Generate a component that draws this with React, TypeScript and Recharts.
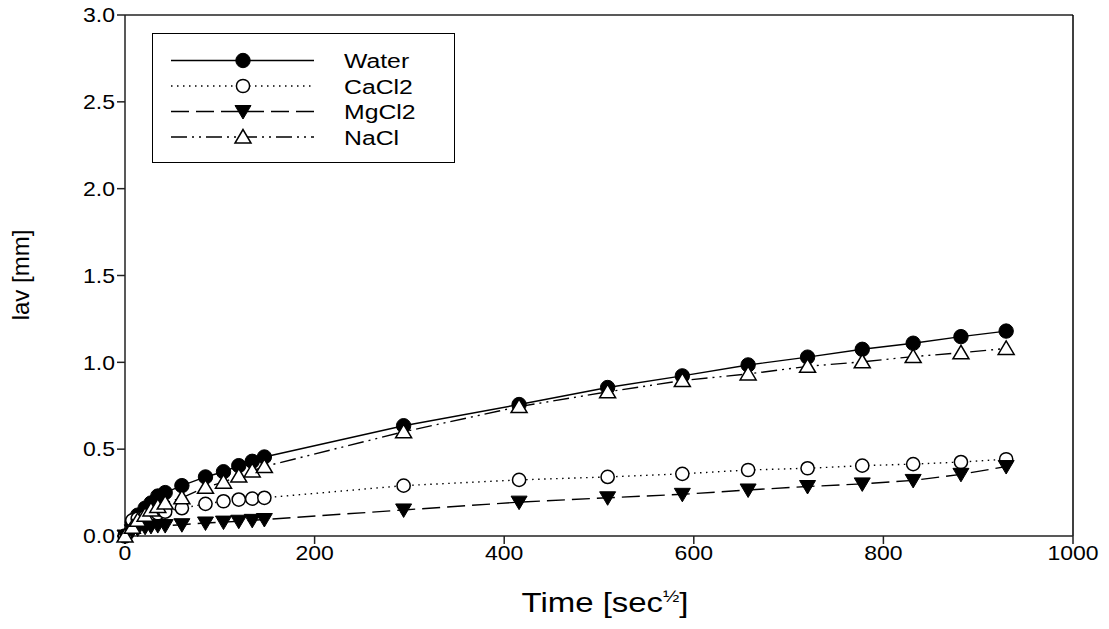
import React from 'react';
import { LineChart, Line, XAxis, YAxis, ReferenceLine, Label } from 'recharts';

const timeSqrtSec = [0, 7.7, 13.4, 21.2, 27.4, 34.6, 42.4, 60, 84.9, 103.9, 120, 134.2, 147, 293.9, 415.7, 509.1, 587.9, 657.3, 720, 777.7, 831.4, 881.8, 929.5];
const water = [0, 0.08, 0.12, 0.16, 0.19, 0.23, 0.25, 0.29, 0.34, 0.37, 0.405, 0.43, 0.455, 0.635, 0.757, 0.855, 0.922, 0.985, 1.03, 1.075, 1.11, 1.148, 1.18];
const cacl2 = [0, 0.09, 0.1, 0.11, 0.12, 0.13, 0.14, 0.16, 0.185, 0.2, 0.21, 0.215, 0.22, 0.29, 0.323, 0.34, 0.358, 0.38, 0.39, 0.405, 0.414, 0.426, 0.442];
const mgcl2 = [0, 0.03, 0.04, 0.05, 0.055, 0.06, 0.06, 0.065, 0.075, 0.08, 0.085, 0.09, 0.095, 0.15, 0.195, 0.22, 0.24, 0.265, 0.285, 0.3, 0.32, 0.355, 0.4];
const nacl = [0, 0.05, 0.09, 0.12, 0.15, 0.17, 0.19, 0.22, 0.28, 0.31, 0.345, 0.375, 0.4, 0.6, 0.745, 0.83, 0.895, 0.933, 0.977, 1.003, 1.033, 1.055, 1.08];

const xTicks = [0, 200, 400, 600, 800, 1000];
const yTicks = [0, 0.5, 1.0, 1.5, 2.0, 2.5, 3.0];
const seriesNames = ['Water', 'CaCl2', 'MgCl2', 'NaCl'];

const data = timeSqrtSec.map((t, i) => ({ t, water: water[i], cacl2: cacl2[i], mgcl2: mgcl2[i], nacl: nacl[i] }));

const FONT = '"Liberation Sans", Arial, Helvetica, sans-serif';
const SX = 1.15;

const dash: Record<string, string | undefined> = { water: undefined, cacl2: '1.5 4.5', mgcl2: '18 7', nacl: '16 5 2 5 2 5' };

function shape(kind: string, cx: number, cy: number, key?: any) {
  if (kind === 'water') return <circle key={key} cx={cx} cy={cy} r={7.2} fill="#000" stroke="#000" strokeWidth={1} />;
  if (kind === 'cacl2') return <circle key={key} cx={cx} cy={cy} r={6.6} fill="#fff" stroke="#000" strokeWidth={1.5} />;
  if (kind === 'mgcl2') return <polygon key={key} points={`${cx - 8},${cy - 6} ${cx + 8},${cy - 6} ${cx},${cy + 7.5}`} fill="#000" stroke="#000" strokeWidth={1} />;
  return <polygon key={key} points={`${cx},${cy - 7.5} ${cx - 8},${cy + 6} ${cx + 8},${cy + 6}`} fill="#fff" stroke="#000" strokeWidth={1.5} />;
}

const makeDot = (kind: string) => (props: any) => {
  const { cx, cy, index } = props;
  if (cx == null || cy == null) return <g key={`${kind}-${index}`} />;
  return shape(kind, cx, cy, `${kind}-${index}`);
};

const kinds = ['water', 'cacl2', 'mgcl2', 'nacl'];

const LegendBox = () => (
  <svg width={306} height={132} style={{ position: 'absolute', left: 152, top: 33, display: 'block' }}>
    <rect x={0.5} y={0.5} width={302} height={129} fill="#fff" stroke="#000" strokeWidth={1} />
    {kinds.map((k, i) => {
      const y = 27.5 + i * 25.5;
      return (
        <g key={k}>
          <line x1={19} x2={162} y1={y} y2={y} stroke="#000" strokeWidth={1.5} strokeDasharray={dash[k]} />
          {shape(k, 91, y)}
          <g transform={`translate(192 ${y}) scale(1.18 1)`}>
            <text x={0} y={0} dy="0.36em" fontFamily={FONT} fontSize={21} fill="#000">{seriesNames[i]}</text>
          </g>
        </g>
      );
    })}
  </svg>
);

const XTick = (props: any) => {
  const { x, y, payload } = props;
  return (
    <g transform={`translate(${x} ${y}) scale(${SX} 1)`}>
      <text x={0} y={0} dy="0.72em" textAnchor="middle" fontFamily={FONT} fontSize={20} fill="#000">{payload.value}</text>
    </g>
  );
};

const YTick = (props: any) => {
  const { x, y, payload } = props;
  return (
    <g transform={`translate(${x} ${y}) scale(${SX} 1)`}>
      <text x={0} y={0} dy="0.36em" textAnchor="end" fontFamily={FONT} fontSize={20} fill="#000">{Number(payload.value).toFixed(1)}</text>
    </g>
  );
};

const XTitle = () => (
  <g transform="translate(605 612) scale(1.22 1)">
    <text x={0} y={0} textAnchor="middle" fontFamily={FONT} fontSize={27} fill="#000">
      Time [sec<tspan dy={-10} fontSize={16}>½</tspan><tspan dy={10}>]</tspan>
    </text>
  </g>
);

const YTitle = () => (
  <text x={29} y={275} transform="rotate(-90 29 275)" textAnchor="middle" fontFamily={FONT} fontSize={24} fill="#000">
    lav [mm]
  </text>
);

export default function App() {
  return (
    <div style={{ position: 'absolute', left: 0, top: 0, width: 1109, height: 629, fontFamily: FONT }}>
      <LineChart width={1109} height={629} data={data} margin={{ top: 15, right: 36, bottom: 0, left: 8 }}>
        <XAxis
          dataKey="t"
          type="number"
          domain={[0, 1000]}
          ticks={xTicks}
          interval={0}
          height={93}
          tickSize={8}
          tickMargin={2}
          stroke="#222"
          strokeWidth={1.5}
          tick={<XTick />}
        >
          <Label content={<XTitle />} />
        </XAxis>
        <YAxis
          type="number"
          domain={[0, 3]}
          ticks={yTicks}
          interval={0}
          width={117}
          tickSize={8}
          tickMargin={2}
          stroke="#222"
          strokeWidth={1.5}
          tick={<YTick />}
        >
          <Label content={<YTitle />} />
        </YAxis>
        <ReferenceLine y={3} stroke="#222" strokeWidth={1.5} />
        <ReferenceLine x={1000} stroke="#000" strokeWidth={1.5} />
        {kinds.map((k) => (
          <Line
            key={k}
            dataKey={k}
            type="linear"
            stroke="#000"
            strokeWidth={1.4}
            strokeDasharray={dash[k]}
            dot={makeDot(k)}
            activeDot={false}
            isAnimationActive={false}
          />
        ))}
      </LineChart>
      <LegendBox />
    </div>
  );
}
